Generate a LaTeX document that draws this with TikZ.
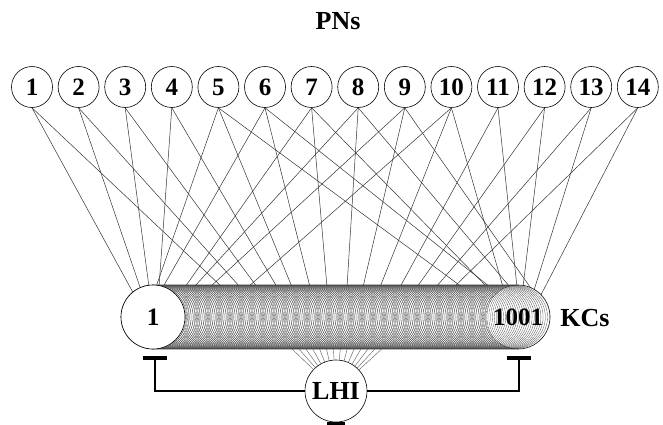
\documentclass[tikz,border=0pt]{standalone}
\usepackage{fontspec}
\setmainfont{Liberation Serif}
\usetikzlibrary{calc}
\begin{document}
\begin{tikzpicture}[x=1pt,y=-1pt,
  pn/.style={circle,draw,line width=0.6pt,minimum size=41pt,inner sep=0pt,font=\fontsize{25}{25}\selectfont\bfseries},
  kc/.style={circle,minimum size=64pt,inner sep=0pt,font=\fontsize{25}{25}\selectfont\bfseries},
  lbl/.style={font=\fontsize{26}{26}\selectfont\bfseries},
  syn/.style={line width=0.5pt,black!80},
  fan/.style={line width=0.45pt,black!60},
  tex/.style={line width=0.3pt,black!70},
  inh/.style={line width=1.8pt},
  tbar/.style={line width=3.2pt}]
\useasboundingbox (0,0) rectangle (663,424);
% title
\node[lbl] (title) at (338,21) {PNs};
% PNs
\foreach \i in {1,...,14} \node[pn] (p\i) at ({32+(\i-1)*46.6},87) {\i};
% KC stack texture
\begin{scope}
  \clip[rounded corners=32pt] (121,285) rectangle (550,349);
  \foreach \c in {153,155.2,...,518} \draw[tex] (\c,317) circle[radius=31.5pt];
\end{scope}
\draw[black!80,line width=0.6pt,rounded corners=32pt] (121,285) rectangle (550,349);
% PN -> KC connections
\begin{scope}[even odd rule,rounded corners=32pt]
  \clip (-50,-50) rectangle (713,474) (121,285) rectangle (550,349);
  \foreach \n/\x [count=\k] in {1/130,1/222,2/140,2/240,3/149,3/257,4/159,4/277,
      5/156,5/292,5/462,6/163,6/310,6/490,7/185,7/327,7/487,8/194,8/347,8/510,
      9/210,9/363,9/530,10/248,10/380,10/503,11/400,11/517,12/417,12/523,
      13/436,13/535,14/454,14/545}{
    \coordinate (e\k) at (\x,287);
    \draw[syn] (p\n.south) -- ($(p\n.south)!1.09!(e\k)$);
  }
\end{scope}
% KC 1 and 1001
\node[kc,draw,fill=white,line width=0.6pt] (k1) at (153,317) {1};
\node[kc,draw,densely dotted,line width=0.5pt] (k1001) at (518,317) {1001};
\node[lbl] (kcs) at (585,318) {KCs};
% LHI
\node[kc,draw,fill=white,line width=0.6pt,minimum size=62pt,font=\fontsize{26}{26}\selectfont\bfseries] (lhi) at (336,391) {LHI};
\foreach \j in {0,...,13}{
  \coordinate (f\j) at ({292+\j*6.9},349);
  \draw[fan] (lhi) -- (f\j);
}
% inhibition
\coordinate (tl) at (155,358);
\coordinate (tr) at (519,358);
\coordinate (tb) at (336,424);
\draw[inh] (lhi.west) -| (tl);
\draw[inh] (lhi.east) -| (tr);
\draw[tbar] ($(tl)+(-12,0)$) -- ($(tl)+(12,0)$);
\draw[tbar] ($(tr)+(-12,0)$) -- ($(tr)+(12,0)$);
\draw[tbar] ($(tb)+(-9,0)$) -- ($(tb)+(9,0)$);
\end{tikzpicture}
\end{document}
